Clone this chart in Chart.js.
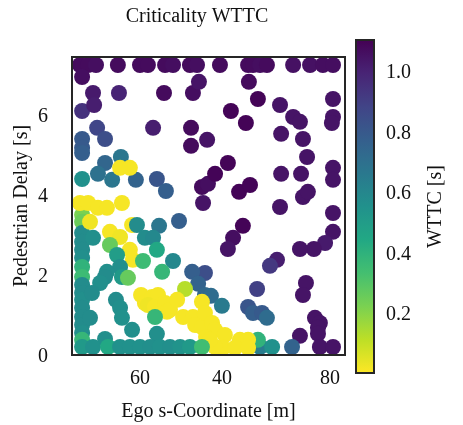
<!DOCTYPE html>
<html>
<head>
<meta charset="utf-8">
<script src="https://cdn.jsdelivr.net/npm/chart.js@4.4.1/dist/chart.umd.min.js"></script>
<style>
  html, body { margin: 0; padding: 0; background: #ffffff; }
  #wrap { position: relative; width: 463px; height: 425px; }
  #wrap canvas { position: absolute; left: 0; top: 0; }
</style>
</head>
<body>
<div id="wrap">
  <canvas id="main" width="463" height="425"></canvas>
  <canvas id="cbar" width="463" height="425"></canvas>
</div>
<script>
// ---- data ----
const egoS = [
  2.9, 5.9, 8.8, 16.8, 24.9, 27.8, 34.1, 37.0, 43.2, 45.8, 54.2, 64.5, 66.3, 68.9, 71.4, 81.0, 87.2, 91.9, 95.6,
  3.7, 7.7, 17.2, 33.7, 44.3, 46.5, 3.7, 8.1, 9.2, 29.7, 43.6, 3.7, 3.7, 3.7, 12.1, 43.6, 49.5, 17.9, 12.1, 9.5,
  3.7, 14.7, 23.4, 31.1, 34.4, 17.6, 21.2, 47.6, 49.8, 48.0, 64.8, 68.1, 76.2, 95.6, 58.2, 63.7, 81.0, 83.5, 95.6,
  95.2, 76.6, 84.6, 86.1, 57.1, 52.4, 76.6, 83.9, 95.6, 95.6, 61.2, 65.2, 76.2, 84.6, 86.4, 95.6, 95.6, 92.7, 88.6,
  83.5, 62.6, 59.0, 57.1, 75.1, 72.5, 85.7, 84.6, 67.8, 48.7, 44.0, 46.2, 48.7, 50.9, 54.9, 64.5, 66.3, 69.6, 71.4,
  89.0, 90.8, 90.1, 83.5, 90.1, 90.8, 95.6, 68.9, 73.3, 80.6, 68.1, 39.2, 31.9, 41.4, 47.6,
  25.3, 26.7, 29.3, 31.5, 27.8, 30.4, 34.1, 34.8, 35.9, 38.5, 40.7, 44.3, 45.1, 47.6, 48.7, 51.3, 52.4, 49.1, 56.0,
  61.5, 64.5, 55.3, 59.7, 64.5, 52.4, 50.5,
  3.7, 3.7, 3.7, 3.7, 3.7, 3.7, 3.7, 3.7, 3.7, 3.7, 3.7, 3.7, 3.7, 3.7, 3.7, 3.7, 3.7,
  2.9, 5.9, 9.5, 12.8, 18.3, 6.6, 7.7, 13.9, 17.6, 13.9, 22.0, 23.8, 26.7, 29.7, 21.2, 22.3, 16.5, 31.1, 26.0, 37.0,
  17.6, 12.8, 12.1, 10.3, 18.3, 20.5, 33.0, 7.3, 16.1, 17.6, 18.3, 6.6, 30.4, 22.0, 31.1, 12.1,
  7.7, 13.2, 17.6, 21.2, 24.9, 28.6, 32.2, 35.9, 39.6, 43.2, 47.6
];
const pedDelay = [
  7.25, 7.25, 7.25, 7.25, 7.25, 7.25, 7.25, 7.25, 7.25, 7.25, 7.25, 7.25, 7.25, 7.25, 7.25, 7.25, 7.25, 7.25, 7.25,
  6.95, 6.55, 6.55, 6.55, 6.55, 6.83, 6.10, 6.25, 5.68, 5.68, 5.68, 5.40, 5.18, 5.05, 5.40, 5.23, 5.38, 4.95, 4.80, 4.53,
  4.40, 4.38, 4.38, 4.40, 4.10, 4.68, 4.68, 4.20, 4.28, 3.80, 6.83, 6.40, 6.25, 6.40, 6.10, 5.80, 5.95, 5.83, 5.95,
  5.80, 5.53, 5.40, 4.95, 4.80, 4.53, 4.53, 4.53, 4.68, 4.38, 4.08, 4.25, 3.70, 3.95, 4.08, 3.55, 3.08, 2.80, 2.65,
  2.65, 3.23, 2.93, 2.65, 2.38, 2.23, 1.80, 1.50, 1.65, 2.05, 2.08, 1.78, 1.50, 1.48, 1.23, 1.20, 1.05, 1.05, 0.93,
  0.93, 0.80, 0.68, 0.48, 0.53, 0.20, 0.20, 0.20, 0.20, 0.20, 0.38, 3.35, 3.23, 1.65, 1.33,
  1.50, 1.30, 1.45, 1.50, 1.25, 1.20, 1.30, 1.08, 1.13, 1.38, 0.95, 0.95, 0.75, 0.70, 1.05, 0.80, 0.63, 0.45, 0.50,
  0.38, 0.38, 0.18, 0.18, 0.18, 0.20, 0.38,
  3.50, 3.33, 3.05, 2.83, 2.63, 2.43, 2.20, 1.95, 1.75, 1.55, 1.38, 1.18, 0.95, 0.75, 0.55, 0.38, 0.20,
  3.80, 3.80, 3.68, 3.68, 3.80, 3.33, 2.93, 3.08, 2.95, 2.75, 3.25, 3.25, 2.93, 2.93, 2.63, 2.38, 2.50, 2.63, 2.35, 2.35,
  2.20, 2.08, 1.95, 1.80, 1.95, 1.93, 2.08, 1.55, 1.38, 1.18, 0.93, 0.93, 0.95, 0.63, 0.53, 0.40,
  0.20, 0.20, 0.20, 0.20, 0.20, 0.20, 0.20, 0.20, 0.20, 0.20, 0.20
];
const wttc = [
  1.08, 1.08, 1.07, 1.08, 1.08, 1.08, 1.08, 1.07, 1.08, 1.07, 1.08, 1.08, 1.08, 1.07, 1.08, 1.06, 1.06, 1.07, 1.07,
  1.07, 1.03, 1.00, 1.08, 1.07, 1.05, 0.95, 1.02, 0.88, 1.02, 1.08, 0.80, 0.80, 0.78, 0.85, 1.08, 1.05, 0.68, 0.75, 0.70,
  0.56, 0.68, 0.76, 0.82, 0.78, 0.02, 0.02, 1.08, 1.07, 1.05, 1.08, 1.10, 1.05, 1.05, 1.10, 1.10, 1.05, 1.05, 1.05,
  1.05, 1.05, 1.05, 1.05, 1.10, 1.10, 1.05, 1.05, 1.05, 1.05, 1.10, 1.10, 1.05, 1.05, 1.05, 1.05, 1.05, 1.03, 1.05,
  1.05, 1.10, 1.07, 1.05, 1.02, 0.93, 1.05, 1.05, 0.90, 0.85, 0.78, 0.76, 0.74, 0.72, 0.66, 0.82, 0.78, 0.80, 0.72,
  1.05, 1.05, 1.05, 1.05, 1.05, 1.05, 1.05, 0.65, 0.56, 0.76, 0.40, 0.78, 0.68, 0.13, 0.02,
  0.02, 0.02, 0.02, 0.02, 0.03, 0.02, 0.02, 0.02, 0.02, 0.02, 0.02, 0.02, 0.02, 0.02, 0.02, 0.02, 0.02, 0.02, 0.02,
  0.02, 0.02, 0.02, 0.02, 0.02, 0.02, 0.02,
  0.23, 0.26, 0.58, 0.58, 0.58, 0.57, 0.40, 0.36, 0.58, 0.58, 0.57, 0.58, 0.58, 0.58, 0.57, 0.38, 0.52,
  0.02, 0.02, 0.02, 0.02, 0.02, 0.03, 0.57, 0.02, 0.03, 0.27, 0.02, 0.58, 0.58, 0.60, 0.02, 0.02, 0.50, 0.45, 0.36, 0.60,
  0.57, 0.57, 0.58, 0.57, 0.52, 0.27, 0.38, 0.58, 0.58, 0.57, 0.56, 0.58, 0.38, 0.57, 0.57, 0.57,
  0.56, 0.45, 0.56, 0.56, 0.56, 0.57, 0.56, 0.57, 0.55, 0.52, 0.35
];
const xTickValues = [24.9, 54.9, 94.5];
const xTickLabels = ['60', '40', '80'];
const yTickValues = [0, 2, 4, 6];
const cbTickValues = [0.2, 0.4, 0.6, 0.8, 1.0];
const cbMin = 0.008, cbMax = 1.11;

// ---- viridis colormap ----
const VIRIDIS = [[68,1,84],[72,36,117],[65,68,135],[53,95,141],[42,120,142],[33,145,140],[34,168,132],[68,191,112],[122,209,81],[189,223,38],[253,231,37]];
function viridis(s) {
  s = Math.max(0, Math.min(1, s));
  const f = s * 10, i = Math.min(9, Math.floor(f)), t = f - i;
  const a = VIRIDIS[i], b = VIRIDIS[i + 1];
  return 'rgb(' + a.map((c, k) => Math.round(c + (b[k] - c) * t)).join(',') + ')';
}
function colorOf(v) { return viridis(1 - (v - cbMin) / (cbMax - cbMin)); }

const FONT = { family: '"Liberation Serif", "Times New Roman", serif', size: 20 };
const TXT = '#111111';
const FRAME = '#262626';

const points = egoS.map((x, i) => ({ x: x, y: pedDelay[i] }));
const pointColors = wttc.map(colorOf);

const framePlugin = {
  id: 'frame',
  afterDatasetsDraw(chart) {
    const a = chart.chartArea, c = chart.ctx;
    c.save();
    c.strokeStyle = FRAME; c.lineWidth = 2;
    c.strokeRect(a.left, a.top, a.right - a.left, a.bottom - a.top);
    c.restore();
  }
};
const titlePlugin = {
  id: 'figTitle',
  afterDraw(chart) {
    const c = chart.ctx;
    c.save();
    c.font = FONT.size + 'px ' + FONT.family;
    c.fillStyle = TXT; c.textAlign = 'center'; c.textBaseline = 'middle';
    c.fillText('Criticality WTTC', 197, 17);
    c.restore();
  }
};

new Chart(document.getElementById('main'), {
  type: 'scatter',
  data: { datasets: [{
    data: points,
    pointRadius: 8, pointHoverRadius: 8,
    pointBackgroundColor: pointColors,
    pointBorderWidth: 0, borderWidth: 0, clip: false
  }]},
  options: {
    responsive: false, animation: false, devicePixelRatio: 1,
    layout: { padding: { left: 0, right: 118, top: 57, bottom: 0 } },
    plugins: { legend: { display: false }, tooltip: { enabled: false }, title: { display: false } },
    scales: {
      x: {
        type: 'linear', min: 0, max: 100,
        grid: { display: false, drawTicks: false }, border: { display: false },
        afterBuildTicks: s => { s.ticks = xTickValues.map(v => ({ value: v })); },
        ticks: { callback: (v, i) => xTickLabels[i], padding: 12, font: FONT, color: TXT, autoSkip: false, maxRotation: 0 },
        title: { display: true, text: 'Ego s-Coordinate [m]', font: FONT, color: TXT, padding: 1 },
        afterFit: s => { s.height = 70; }
      },
      y: {
        type: 'linear', min: 0, max: 7.45,
        grid: { display: false, drawTicks: false }, border: { display: false },
        afterBuildTicks: s => { s.ticks = yTickValues.map(v => ({ value: v })); },
        ticks: { padding: 24, font: FONT, color: TXT, autoSkip: false, labelOffset: 2 },
        title: { display: true, text: 'Pedestrian Delay [s]', font: FONT, color: TXT, padding: 10 },
        afterFit: s => { s.width = 72; }
      }
    }
  },
  plugins: [framePlugin, titlePlugin]
});

// ---- colorbar ----
const cbPlugin = {
  id: 'cbFrame',
  afterDraw(chart) {
    const a = chart.chartArea, c = chart.ctx;
    c.save();
    c.strokeStyle = FRAME; c.lineWidth = 2;
    c.strokeRect(a.left, a.top, a.right - a.left, a.bottom - a.top);
    c.translate(436, (a.top + a.bottom) / 2);
    c.rotate(-Math.PI / 2);
    c.font = FONT.size + 'px ' + FONT.family;
    c.fillStyle = TXT; c.textAlign = 'center'; c.textBaseline = 'middle';
    c.fillText('WTTC [s]', 0, 0);
    c.restore();
  }
};
new Chart(document.getElementById('cbar'), {
  type: 'bar',
  data: { labels: [''], datasets: [{
    data: [[cbMin, cbMax]],
    backgroundColor: (ctx) => {
      const a = ctx.chart.chartArea;
      if (!a) return 'rgba(0,0,0,0)';
      const g = ctx.chart.ctx.createLinearGradient(0, a.bottom, 0, a.top);
      for (let k = 0; k <= 20; k++) g.addColorStop(k / 20, viridis(1 - k / 20));
      return g;
    },
    borderWidth: 0, barPercentage: 1, categoryPercentage: 1
  }]},
  options: {
    responsive: false, animation: false, devicePixelRatio: 1,
    layout: { padding: { left: 356, right: 0, top: 40, bottom: 52 } },
    plugins: { legend: { display: false }, tooltip: { enabled: false } },
    scales: {
      x: { display: false },
      y: {
        position: 'right', min: cbMin, max: cbMax,
        grid: { display: false, drawTicks: false }, border: { display: false },
        afterBuildTicks: s => { s.ticks = cbTickValues.map(v => ({ value: v })); },
        ticks: { padding: 12, font: FONT, color: TXT, callback: v => v.toFixed(1) },
        afterFit: s => { s.width = 89; }
      }
    }
  },
  plugins: [cbPlugin]
});
</script>
</body>
</html>
